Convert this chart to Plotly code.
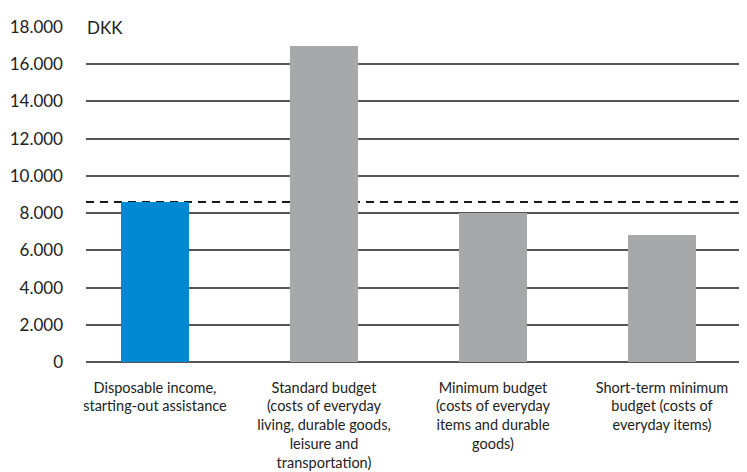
import plotly.graph_objects as go

categories = [
    "Disposable income,<br>starting-out assistance",
    "Standard budget<br>(costs of everyday<br>living, durable goods,<br>leisure and<br>transportation)",
    "Minimum budget<br>(costs of everyday<br>items and durable<br>goods)",
    "Short-term minimum<br>budget (costs of<br>everyday items)",
]
values = [8600, 17000, 8000, 6850]
bar_colors = ["#0089D0", "#A7A8AA", "#A7A8AA", "#A7A8AA"]
reference_level = 8600
y_ticks = [0, 2000, 4000, 6000, 8000, 10000, 12000, 14000, 16000, 18000]
unit_label = "DKK"

xs = list(range(len(categories)))

fig = go.Figure()
fig.add_trace(go.Bar(
    x=xs, y=values, marker=dict(color=bar_colors, line=dict(width=0)),
    width=0.40, hoverinfo="skip",
))

fig.add_shape(type="line", xref="paper", yref="y", x0=0, x1=1,
              y0=reference_level, y1=reference_level,
              line=dict(color="#1a1a1a", width=2, dash="8px,6px"), layer="between")

fig.add_annotation(xref="paper", yref="y", x=0, y=18000, text=unit_label + "&nbsp;&nbsp;&nbsp;&nbsp;",
                   showarrow=False, xanchor="left", yanchor="middle",
                   bgcolor="white", borderpad=0,
                   font=dict(family="Lato, sans-serif", size=17, color="#222"))

fig.update_layout(
    width=739, height=464,
    margin=dict(l=78, r=0, t=19, b=110, autoexpand=False),
    paper_bgcolor="white", plot_bgcolor="white",
    separators=",.",
    showlegend=False,
    bargap=0,
    xaxis=dict(
        range=[-0.408, 3.503],
        tickmode="array", tickvals=xs, ticktext=categories,
        showgrid=False, zeroline=False, showline=False, ticks="",
        ticklabelstandoff=15,
        tickfont=dict(family="Lato, sans-serif", size=14.5, color="#222"),
        automargin=False, fixedrange=True,
    ),
    yaxis=dict(
        range=[0, 18000],
        tickmode="array", tickvals=y_ticks, tickformat=",d",
        showgrid=True, gridcolor="#555555", gridwidth=1.5,
        zeroline=True, zerolinecolor="#555555", zerolinewidth=1.5,
        showline=False, ticks="",
        ticklabelstandoff=22,
        tickfont=dict(family="Lato, sans-serif", size=17, color="#222"),
        automargin=False, fixedrange=True,
    ),
)

fig.write_html("out.html")
